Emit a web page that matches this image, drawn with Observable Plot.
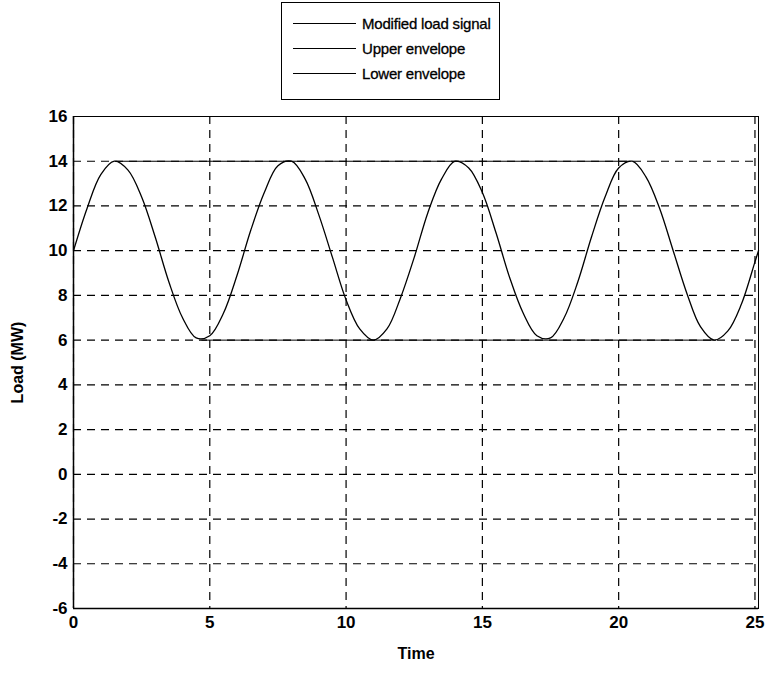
<!DOCTYPE html>
<html>
<head>
<meta charset="utf-8">
<script src="https://cdn.jsdelivr.net/npm/d3@7"></script>
<script src="https://cdn.jsdelivr.net/npm/@observablehq/plot@0.6"></script>
<style>
  html, body { margin: 0; padding: 0; background: #fff; }
  #wrap { position: relative; width: 772px; height: 679px; font-family: "Liberation Sans", Arial, sans-serif; }
  #legend { position: absolute; left: 281px; top: 2px; width: 219px; height: 98px; border: 1.5px solid #000; box-sizing: border-box; background: #fff; }
  .row { position: absolute; left: 0; height: 20px; display: flex; align-items: center; }
  .sw { width: 63px; margin-left: 11px; border-top: 1px solid #000; }
  .lb { margin-left: 6px; font-size: 15px; letter-spacing: -0.2px; color: #000; white-space: nowrap; -webkit-text-stroke: 0.3px #000; }
  #chart { position: absolute; left: 0; top: 104px; }
</style>
</head>
<body>
<div id="wrap">
  <div id="legend"></div>
  <div id="chart"></div>
</div>
<script>
// Data
const time = [0, 0.5, 1.0, 1.5, 2.0, 2.5, 3.0, 3.5, 4.0, 4.5, 5.0, 5.5, 6.0, 6.5, 7.0, 7.5, 8.0, 8.5, 9.0, 9.5,
  10.0, 10.5, 11.0, 11.5, 12.0, 12.5, 13.0, 13.5, 14.0, 14.5, 15.0, 15.5, 16.0, 16.5, 17.0, 17.5, 18.0, 18.5, 19.0, 19.5,
  20.0, 20.5, 21.0, 21.5, 22.0, 22.5, 23.0, 23.5, 24.0, 24.5, 25.0, 25.13];
const load = [10.0, 11.9, 13.4, 14.0, 13.6, 12.4, 10.6, 8.6, 7.0, 6.1, 6.2, 7.2, 8.9, 10.9, 12.6, 13.8, 14.0, 13.2, 11.6, 9.7,
  7.8, 6.5, 6.0, 6.5, 7.9, 9.7, 11.7, 13.2, 14.0, 13.7, 12.6, 10.8, 8.8, 7.2, 6.2, 6.1, 7.0, 8.6, 10.6, 12.4,
  13.7, 14.0, 13.3, 11.9, 10.0, 8.1, 6.6, 6.0, 6.4, 7.6, 9.5, 10.0];
const upperTime = [1.57, 20.42];
const upperLoad = [14, 14];
const lowerTime = [4.71, 23.56];
const lowerLoad = [6, 6];
const xTicks = [0, 5, 10, 15, 20, 25];
const yTicks = [-6, -4, -2, 0, 2, 4, 6, 8, 10, 12, 14, 16];
const legendLabels = ["Modified load signal", "Upper envelope", "Lower envelope"];

const signal = time.map((t, i) => ({t, v: load[i]}));
const upper = upperTime.map((t, i) => ({t, v: upperLoad[i]}));
const lower = lowerTime.map((t, i) => ({t, v: lowerLoad[i]}));

const font = "Liberation Sans, Arial, sans-serif";
const chart = Plot.plot({
  width: 772,
  height: 575,
  marginLeft: 73,
  marginRight: 14,
  marginTop: 12,
  marginBottom: 71,
  style: {fontFamily: font, background: "#fff", color: "#000"},
  x: {domain: [0, 25.13], ticks: xTicks},
  y: {domain: [-6, 16], ticks: yTicks},
  marks: [
    Plot.gridX(xTicks, {stroke: "#000", strokeOpacity: 1, strokeDasharray: "8,6", strokeWidth: 1.2}),
    Plot.gridY(yTicks, {stroke: "#000", strokeOpacity: 1, strokeDasharray: "8,6", strokeWidth: 1.2}),
    Plot.frame({stroke: "#000", strokeWidth: 1}),
    Plot.axisX(xTicks, {tickSize: 0, tickPadding: 7, fontSize: 17, fontWeight: "bold", tickFormat: d => String(d),
      label: "Time", labelAnchor: "center", labelOffset: 50, labelArrow: "none"}),
    Plot.axisY(yTicks, {tickSize: 0, tickPadding: 6, fontSize: 17, fontWeight: "bold", tickFormat: d => String(d),
      label: "Load (MW)", labelAnchor: "center", labelOffset: 62, labelArrow: "none"}),
    Plot.ruleX([0], {stroke: "#000", strokeWidth: 1.5}),
    Plot.ruleY([-6], {stroke: "#000", strokeWidth: 1.5}),
    Plot.line(upper, {x: "t", y: "v", stroke: "#000", strokeWidth: 1.2}),
    Plot.line(lower, {x: "t", y: "v", stroke: "#000", strokeWidth: 1}),
    Plot.line(signal, {x: "t", y: "v", stroke: "#000", strokeWidth: 1.3, curve: "catmull-rom"})
  ]
});
// style axis labels
d3.select(chart).selectAll("[aria-label='x-axis label'] text, [aria-label='y-axis label'] text")
  .style("font-size", "16px").style("font-weight", "bold");
document.getElementById("chart").appendChild(chart);

// Legend
const lg = document.getElementById("legend");
const rowTops = [10, 35, 60];
legendLabels.forEach((lab, i) => {
  const r = document.createElement("div");
  r.className = "row";
  r.style.top = rowTops[i] + "px";
  const sw = document.createElement("div");
  sw.className = "sw";
  if (i === 2) sw.style.borderTopWidth = "1.5px";
  const tx = document.createElement("span");
  tx.className = "lb";
  tx.textContent = lab;
  r.appendChild(sw); r.appendChild(tx);
  lg.appendChild(r);
});
</script>
</body>
</html>
